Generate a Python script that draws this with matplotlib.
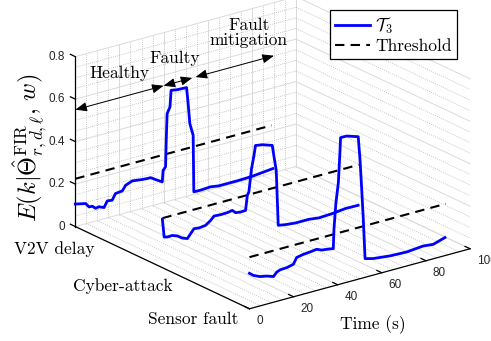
import numpy as np
import matplotlib
matplotlib.use("Agg")
import matplotlib.pyplot as plt
from matplotlib.patches import FancyArrowPatch
from matplotlib.lines import Line2D
from mpl_toolkits.mplot3d import proj3d

plt.rcParams["mathtext.fontset"] = "cm"

# ---------------- data ----------------
scenarios = ["V2V delay", "Cyber-attack", "Sensor fault"]
scenario_pos = [1, 2, 3]

t_v2v = [0, 4.7, 6.2, 7.7, 9.2, 10.7, 13, 14.5, 16.7, 18.2, 21.3, 22.8, 25.8, 28.1,
         30.3, 32.6, 34.1, 36.3, 39.4, 39.8, 40.9, 41.2, 41.6, 42.9, 43.4, 46.2, 50.4,
         51.0, 51.9, 53.4, 53.7, 56.7, 61.2, 65, 74, 80, 89.5]
e_v2v = [0.106, 0.095, 0.075, 0.074, 0.060, 0.063, 0.053, 0.080, 0.077, 0.104, 0.108,
         0.130, 0.142, 0.139, 0.136, 0.134, 0.134, 0.119, 0.099, 0.152, 0.166, 0.290,
         0.414, 0.442, 0.519, 0.514, 0.512, 0.450, 0.338, 0.279, 0.012, 0.011, 0.014,
         0.008, 0.008, 0.010, 0.020]

t_cyber = [0, 0.8, 2.3, 4.5, 6.8, 9.0, 11.3, 12.8, 14.3, 16.6, 19.6, 21.9, 23.4, 26.4,
           29.4, 31.7, 33.2, 35.4, 37.7, 38.5, 39.2, 40.4, 41.5, 42.2, 45.2, 49.8, 50.5,
           51.6, 52.5, 55.8, 60.3, 66.4, 70.9, 76.9, 82.9, 88.7]
e_cyber = [0.227, 0.142, 0.138, 0.139, 0.130, 0.114, 0.105, 0.124, 0.143, 0.140, 0.144,
           0.161, 0.177, 0.175, 0.176, 0.180, 0.165, 0.162, 0.163, 0.232, 0.246, 0.352,
           0.411, 0.456, 0.451, 0.435, 0.386, 0.312, 0.051, 0.045, 0.040, 0.040, 0.034,
           0.037, 0.044, 0.043]

t_sensor = [0, 1.8, 4.8, 7.8, 10.9, 12.4, 13.9, 16.9, 19.9, 21.4, 24.4, 27.5, 30.5, 32.7,
            35, 38, 38.3, 39.2, 40.3, 41, 41.3, 44, 49.3, 50.1, 50.8, 51.6, 52.4, 56.1,
            63.7, 71.2, 78.7, 83.3, 88.6]
e_sensor = [0.167, 0.152, 0.138, 0.132, 0.121, 0.138, 0.144, 0.146, 0.153, 0.181, 0.187,
            0.190, 0.194, 0.184, 0.181, 0.176, 0.266, 0.389, 0.480, 0.619, 0.689, 0.689,
            0.671, 0.562, 0.434, 0.275, 0.088, 0.078, 0.069, 0.066, 0.073, 0.068, 0.085]

thresholds = [0.225, 0.233, 0.243]
threshold_span = [0, 89]

time_ticks = [0, 20, 40, 60, 80, 100]
z_ticks = [0, 0.2, 0.4, 0.6, 0.8]
z_tick_labels = ["0", "0.2", "0.4", "0.6", "0.8"]

phases = ["Healthy", "Faulty", "Fault\nmitigation"]
phase_bounds = [(0, 40), (40, 53), (54.5, 90)]
phase_arrow_level = 0.55

series_t = [t_v2v, t_cyber, t_sensor]
series_e = [e_v2v, e_cyber, e_sensor]

# ---------------- figure ----------------
SERIF = "cmr10"
SANS = "Liberation Sans"
TICK_COLOR = "#262626"
X0, X1 = 1, 3
T0, T1 = 0, 100
Z0, Z1 = 0, 0.8

fig = plt.figure(figsize=(4.91, 3.41), dpi=100)
# a large square 3D panel so nothing gets clipped by the axes box
ax = fig.add_axes([-0.0721, -0.3516, 1.222, 1.76], projection="3d",
                  proj_type="ortho", computed_zorder=False)
ax.set_box_aspect((288, 277, 182), zoom=0.7104)
ax.view_init(elev=21, azim=-37.2)
ax.set_xlim(X0, X1)
ax.set_ylim(T0, T1)
ax.set_zlim(Z0, Z1)
ax.set_axis_off()
ax.patch.set_visible(False)


def label_at(x, y, z, s, dx=0, dy=0, **kw):
    """Place a flat 2D label at the projection of a 3D point (pixel offset)."""
    xs, ys, _ = proj3d.proj_transform(x, y, z, ax.get_proj())
    return ax.annotate(s, xy=(float(xs), float(ys)), xycoords="data",
                       xytext=(dx, dy), textcoords="offset pixels",
                       annotation_clip=False, **kw)


# major / minor grid on the back walls and the floor
maj = dict(color="#dadada", lw=0.7, ls="-", zorder=0)
mnr = dict(color="#b5b5b5", lw=0.6, ls=(0, (1, 1.6)), zorder=0)
for t in np.arange(T0, T1 + 1, 5):
    st = maj if t % 20 == 0 else mnr
    ax.plot([X0, X0], [t, t], [Z0, Z1], **st)
    ax.plot([X0, X1], [t, t], [Z0, Z0], **st)
for k in range(17):
    z = 0.05 * k
    st = maj if k % 4 == 0 else mnr
    ax.plot([X0, X0], [T0, T1], [z, z], **st)
    ax.plot([X0, X1], [T1, T1], [z, z], **st)

# axis lines
ax_line = dict(color="black", lw=0.9, zorder=2)
ax.plot([X0, X0], [T0, T0], [Z0, Z1], **ax_line)
ax.plot([X0, X1], [T0, T0], [Z0, Z0], **ax_line)
ax.plot([X1, X1], [T0, T1], [Z0, Z0], **ax_line)

# z ticks and labels
for z, lab in zip(z_ticks, z_tick_labels):
    ax.plot([X0, X0 - 0.057], [T0, T0], [z, z], **ax_line)
    label_at(X0, T0, z, lab, dx=-10, dy=0, ha="right", va="center",
             fontfamily=SANS, fontsize=8.5, color=TICK_COLOR)

# time ticks and labels
for t in time_ticks:
    ax.plot([X1, X1 - 0.057], [t, t], [Z0, Z0], **ax_line)
    label_at(X1, t, Z0, str(t), dx=7, dy=-12, ha="left", va="center",
             fontfamily=SANS, fontsize=8.5, color=TICK_COLOR)

# series and thresholds
for pos, tt, ee, thr in zip(scenario_pos, series_t, series_e, thresholds):
    ax.plot([pos, pos], threshold_span, [thr, thr], color="black", lw=1.5,
            dashes=(4.5, 3), zorder=3)
    ax.plot(np.full(len(tt), pos), tt, ee, color="#0000ff", lw=2.0, zorder=4)


class Arrow3D(FancyArrowPatch):
    def __init__(self, xs, ys, zs, **kw):
        super().__init__((0, 0), (0, 0), **kw)
        self._verts3d = xs, ys, zs

    def do_3d_projection(self, renderer=None):
        xs, ys, zs = proj3d.proj_transform(*self._verts3d, self.axes.M)
        self.set_positions((xs[0], ys[0]), (xs[1], ys[1]))
        return np.min(zs)


phase_text_pos = [(20, 0.665), (44.8, 0.665), (78.7, 0.69)]
for name, (t0, t1), (tx, tz) in zip(phases, phase_bounds, phase_text_pos):
    arr = Arrow3D([X0, X0], [t0, t1], [phase_arrow_level, phase_arrow_level],
                  arrowstyle="<|-|>,head_length=0.7,head_width=0.28",
                  mutation_scale=10, lw=0.7, color="black", shrinkA=0, shrinkB=0,
                  zorder=5)
    ax.add_artist(arr)
    label_at(X0, tx, tz, name, ha="center", va="center", fontfamily=SERIF,
             fontsize=12.5, linespacing=1.0, zorder=6)

# category labels along the scenario axis (right-aligned, baseline anchored)
scenario_label_xy = [(95, 254), (173, 291), (238, 324)]
for name, (px, py) in zip(scenarios, scenario_label_xy):
    fig.text(px / 491, 1 - py / 341, name, ha="right", va="baseline",
             fontfamily=SERIF, fontsize=12.5)

fig.text(30 / 491, 1 - 148 / 341,
         r"$E(k|\hat{\Theta}^{\mathrm{FIR}}_{r,d,\ell},\,w)$",
         rotation=90, ha="center", va="center", fontsize=17.5)
fig.text(373 / 491, 1 - 325 / 341, "Time (s)", ha="center", va="center",
         fontfamily=SERIF, fontsize=12.5)

handles = [Line2D([], [], color="#0000ff", lw=2.0),
           Line2D([], [], color="black", lw=1.5, dashes=(4.5, 3))]
leg = fig.legend(handles, [r"$\mathcal{T}_3$", "Threshold"], loc="upper right",
                 bbox_to_anchor=(457 / 491, 1 - 10 / 341), borderaxespad=0,
                 fancybox=False, edgecolor="black", framealpha=1,
                 prop=dict(family=SERIF, size=12.5), handlelength=2.0,
                 handletextpad=0.3, labelspacing=0.15, borderpad=0.3)
leg.get_frame().set_linewidth(0.9)

fig.savefig("out.png", dpi=100)
